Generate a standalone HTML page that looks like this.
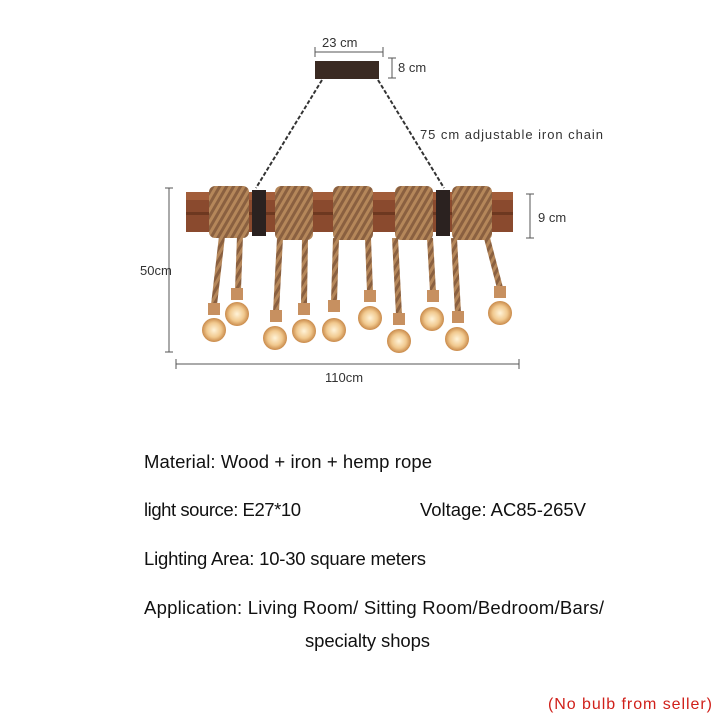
<!DOCTYPE html>
<html><head><style>
body{margin:0;background:#fff;}
svg{display:block;}
text{font-family:"Liberation Sans",sans-serif;}
</style></head><body>
<svg width="720" height="720" viewBox="0 0 720 720">
<defs>
<radialGradient id="bulb" cx="50%" cy="50%" r="50%">
<stop offset="0" stop-color="#fff3d8"/><stop offset="0.6" stop-color="#f1c98f"/><stop offset="1" stop-color="#c98a4a"/>
</radialGradient>
<pattern id="rope" width="6" height="6" patternUnits="userSpaceOnUse" patternTransform="rotate(30)">
<rect width="6" height="6" fill="#b5875a"/><rect width="3" height="6" fill="#8a6040"/>
</pattern>
</defs>
<g stroke="#555" stroke-width="1" fill="none">
<line x1="315" y1="52" x2="383" y2="52"/><line x1="315" y1="47" x2="315" y2="57"/><line x1="383" y1="47" x2="383" y2="57"/>
<line x1="392" y1="58" x2="392" y2="78"/><line x1="388" y1="58" x2="396" y2="58"/><line x1="388" y1="78" x2="396" y2="78"/>
<line x1="530" y1="194" x2="530" y2="238"/><line x1="526" y1="194" x2="534" y2="194"/><line x1="526" y1="238" x2="534" y2="238"/>
<line x1="169" y1="188" x2="169" y2="352"/><line x1="165" y1="188" x2="173" y2="188"/><line x1="165" y1="352" x2="173" y2="352"/>
<line x1="176" y1="364" x2="519" y2="364"/><line x1="176" y1="359" x2="176" y2="369"/><line x1="519" y1="359" x2="519" y2="369"/>
</g>
<g font-size="13" fill="#333">
<text x="322" y="47">23 cm</text>
<text x="398" y="72">8 cm</text>
<text x="420" y="139" textLength="183">75 cm adjustable iron chain</text>
<text x="538" y="222">9 cm</text>
<text x="140" y="275">50cm</text>
<text x="325" y="382">110cm</text>
</g>
<rect x="315" y="61" width="64" height="18" fill="#3a2a22"/>
<g stroke="#333" stroke-width="2" stroke-dasharray="4 2" fill="none">
<line x1="322" y1="80" x2="256" y2="188"/><line x1="378" y1="80" x2="444" y2="188"/>
</g>
<rect x="186" y="192" width="327" height="40" fill="#8a4a2e"/>
<rect x="186" y="192" width="327" height="8" fill="#a25d3a"/>
<rect x="186" y="212" width="327" height="3" fill="#6d3820"/>
<rect x="252" y="190" width="14" height="46" fill="#2b2220"/>
<rect x="436" y="190" width="14" height="46" fill="#2b2220"/>
<g fill="url(#rope)">
<rect x="209" y="186" width="40" height="52" rx="6"/>
<rect x="275" y="186" width="38" height="54" rx="6"/>
<rect x="333" y="186" width="40" height="54" rx="6"/>
<rect x="395" y="186" width="38" height="54" rx="6"/>
<rect x="452" y="186" width="40" height="54" rx="6"/>
</g>
<g stroke="url(#rope)" stroke-width="6" fill="none">
<path d="M222 236 L214 305"/><path d="M240 236 L238 290"/><path d="M280 238 L276 312"/>
<path d="M305 238 L304 305"/><path d="M336 238 L334 302"/><path d="M368 238 L370 292"/>
<path d="M395 238 L399 315"/><path d="M430 238 L433 292"/><path d="M454 238 L458 313"/>
<path d="M487 238 L500 288"/>
</g>
<g fill="#c79060">
<rect x="208" y="303" width="12" height="12"/><rect x="231" y="288" width="12" height="12"/><rect x="270" y="310" width="12" height="12"/>
<rect x="298" y="303" width="12" height="12"/><rect x="328" y="300" width="12" height="12"/><rect x="364" y="290" width="12" height="12"/>
<rect x="393" y="313" width="12" height="12"/><rect x="427" y="290" width="12" height="12"/><rect x="452" y="311" width="12" height="12"/>
<rect x="494" y="286" width="12" height="12"/>
</g>
<g fill="url(#bulb)">
<circle cx="214" cy="330" r="12"/><circle cx="237" cy="314" r="12"/><circle cx="275" cy="338" r="12"/>
<circle cx="304" cy="331" r="12"/><circle cx="334" cy="330" r="12"/><circle cx="370" cy="318" r="12"/>
<circle cx="399" cy="341" r="12"/><circle cx="432" cy="319" r="12"/><circle cx="457" cy="339" r="12"/>
<circle cx="500" cy="313" r="12"/>
</g>
<g font-size="18.5" fill="#111">
<text x="144" y="468" textLength="288">Material: Wood + iron + hemp rope</text>
<text x="144" y="516" textLength="157">light source: E27*10</text>
<text x="420" y="516" textLength="166">Voltage: AC85-265V</text>
<text x="144" y="565" textLength="282">Lighting Area: 10-30 square meters</text>
<text x="144" y="614" textLength="460">Application: Living Room/ Sitting Room/Bedroom/Bars/</text>
<text x="305" y="647" textLength="125">specialty shops</text>
</g>
<text x="548" y="709" font-size="16" fill="#d0201a" textLength="164">(No bulb from seller)</text>
</svg>
</body></html>
